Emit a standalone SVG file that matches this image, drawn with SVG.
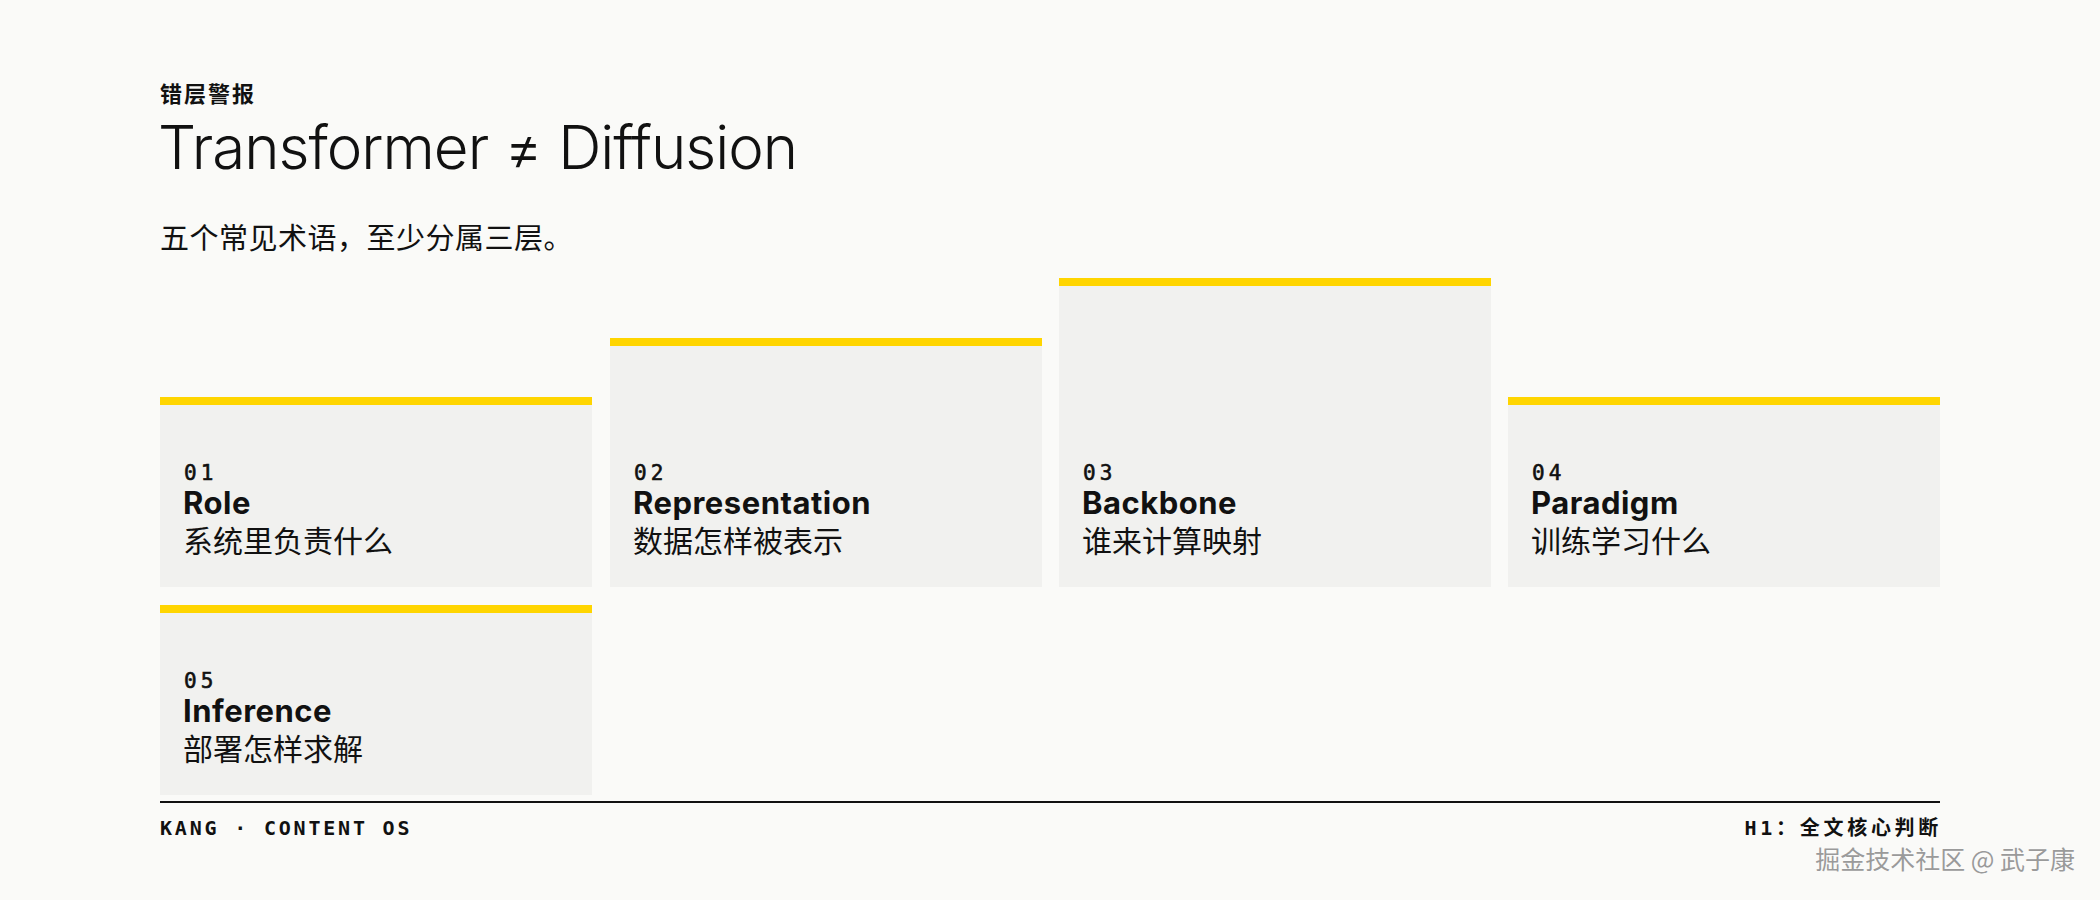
<svg xmlns="http://www.w3.org/2000/svg" width="2100" height="900" viewBox="0 0 2100 900">
<style>
.bg{fill:#FAFAF8}
.card{fill:#F1F1EF}
.bar{fill:#FFD500}
.num{font-family:"DejaVu Sans Mono","Liberation Mono",monospace;font-weight:400;font-size:21px;letter-spacing:4px;fill:#111;stroke:#111;stroke-width:0.6px}
.name{font-family:Inter,"Liberation Sans",sans-serif;font-weight:700;font-size:31px;letter-spacing:0.5px;fill:#111}
.desc{font-family:"Noto Sans CJK SC",sans-serif;font-size:30px;fill:#111}
.kicker{font-family:"Noto Sans CJK SC",sans-serif;font-weight:700;font-size:22px;letter-spacing:2px;fill:#111}
.title{font-family:Inter,"Liberation Sans",sans-serif;font-weight:300;font-size:60px;letter-spacing:-1px;fill:#111}
.sub{font-family:"Noto Sans CJK SC",sans-serif;font-size:29px;letter-spacing:0.5px;fill:#111}
.foot{font-family:"DejaVu Sans Mono","Noto Sans CJK SC",monospace;font-weight:700;font-size:20px;letter-spacing:2.8px;fill:#111}
.foot-r{letter-spacing:3.7px}
.wm{font-family:"Noto Sans CJK SC",sans-serif;font-size:25px;fill:#9a9a9a;stroke:#ffffff;stroke-width:0.6px;paint-order:stroke}
</style>
<rect class="bg" x="0" y="0" width="2100" height="900"/>
<g id="header">
<text class="kicker" x="160" y="102">错层警报</text>
<text class="title" x="158" y="169">Transformer ≠ Diffusion</text>
<text class="sub" x="160" y="249">五个常见术语，至少分属三层。</text>
</g>
<g id="node-01">
<rect class="card" x="160" y="397" width="432" height="190"/>
<rect class="bar" x="160" y="397" width="432" height="8"/>
<text class="num" x="184" y="480">01</text>
<text class="name" x="183" y="514">Role</text>
<text class="desc" x="183" y="552">系统里负责什么</text>
</g>
<g id="node-02">
<rect class="card" x="610" y="338" width="432" height="249"/>
<rect class="bar" x="610" y="338" width="432" height="8"/>
<text class="num" x="634" y="480">02</text>
<text class="name" x="633" y="514">Representation</text>
<text class="desc" x="633" y="552">数据怎样被表示</text>
</g>
<g id="node-03">
<rect class="card" x="1059" y="278" width="432" height="309"/>
<rect class="bar" x="1059" y="278" width="432" height="8"/>
<text class="num" x="1083" y="480">03</text>
<text class="name" x="1082" y="514">Backbone</text>
<text class="desc" x="1082" y="552">谁来计算映射</text>
</g>
<g id="node-04">
<rect class="card" x="1508" y="397" width="432" height="190"/>
<rect class="bar" x="1508" y="397" width="432" height="8"/>
<text class="num" x="1532" y="480">04</text>
<text class="name" x="1531" y="514">Paradigm</text>
<text class="desc" x="1531" y="552">训练学习什么</text>
</g>
<g id="node-05">
<rect class="card" x="160" y="605" width="432" height="190"/>
<rect class="bar" x="160" y="605" width="432" height="8"/>
<text class="num" x="184" y="688">05</text>
<text class="name" x="183" y="722">Inference</text>
<text class="desc" x="183" y="760">部署怎样求解</text>
</g>
<g id="connectors"></g>
<g id="footer">
<rect x="160" y="801" width="1780" height="2" fill="#111"/>
<text class="foot" x="160" y="835">KANG · CONTENT OS</text>
<text class="foot foot-r" x="1942" y="835" text-anchor="end">H1：全文核心判断</text>
<text class="wm" x="2075" y="869" text-anchor="end">掘金技术社区 @ 武子康</text>
</g>
</svg>
